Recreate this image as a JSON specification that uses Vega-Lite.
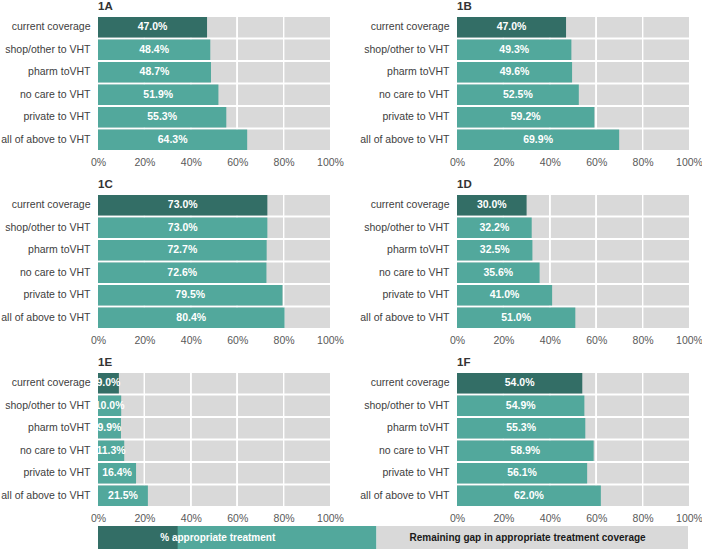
{
  "$schema": "https://vega.github.io/schema/vega-lite/v6.json",
  "background": "white",
  "padding": {"left": 0, "top": 1, "right": 0, "bottom": 0},
  "config": {
    "font": "Liberation Sans",
    "view": {"stroke": null},
    "axis": {"domain": false, "ticks": false, "grid": false, "title": null},
    "header": {"labelFontSize": 11.5, "labelFontWeight": "bold", "labelColor": "#333333", "labelAnchor": "start", "labelPadding": 4, "labelOrient": "top"},
    "concat": {"spacing": 2}
  },
  "datasets": {
    "coverage": [
      {"panel": "1A", "scenario": "current coverage", "value": 0.470},
      {"panel": "1A", "scenario": "shop/other to VHT", "value": 0.484},
      {"panel": "1A", "scenario": "pharm toVHT", "value": 0.487},
      {"panel": "1A", "scenario": "no care to VHT", "value": 0.519},
      {"panel": "1A", "scenario": "private to VHT", "value": 0.553},
      {"panel": "1A", "scenario": "all of above to VHT", "value": 0.643},
      {"panel": "1B", "scenario": "current coverage", "value": 0.470},
      {"panel": "1B", "scenario": "shop/other to VHT", "value": 0.493},
      {"panel": "1B", "scenario": "pharm toVHT", "value": 0.496},
      {"panel": "1B", "scenario": "no care to VHT", "value": 0.525},
      {"panel": "1B", "scenario": "private to VHT", "value": 0.592},
      {"panel": "1B", "scenario": "all of above to VHT", "value": 0.699},
      {"panel": "1C", "scenario": "current coverage", "value": 0.730},
      {"panel": "1C", "scenario": "shop/other to VHT", "value": 0.730},
      {"panel": "1C", "scenario": "pharm toVHT", "value": 0.727},
      {"panel": "1C", "scenario": "no care to VHT", "value": 0.726},
      {"panel": "1C", "scenario": "private to VHT", "value": 0.795},
      {"panel": "1C", "scenario": "all of above to VHT", "value": 0.804},
      {"panel": "1D", "scenario": "current coverage", "value": 0.300},
      {"panel": "1D", "scenario": "shop/other to VHT", "value": 0.322},
      {"panel": "1D", "scenario": "pharm toVHT", "value": 0.325},
      {"panel": "1D", "scenario": "no care to VHT", "value": 0.356},
      {"panel": "1D", "scenario": "private to VHT", "value": 0.410},
      {"panel": "1D", "scenario": "all of above to VHT", "value": 0.510},
      {"panel": "1E", "scenario": "current coverage", "value": 0.090},
      {"panel": "1E", "scenario": "shop/other to VHT", "value": 0.100},
      {"panel": "1E", "scenario": "pharm toVHT", "value": 0.099},
      {"panel": "1E", "scenario": "no care to VHT", "value": 0.113},
      {"panel": "1E", "scenario": "private to VHT", "value": 0.164},
      {"panel": "1E", "scenario": "all of above to VHT", "value": 0.215},
      {"panel": "1F", "scenario": "current coverage", "value": 0.540},
      {"panel": "1F", "scenario": "shop/other to VHT", "value": 0.549},
      {"panel": "1F", "scenario": "pharm toVHT", "value": 0.553},
      {"panel": "1F", "scenario": "no care to VHT", "value": 0.589},
      {"panel": "1F", "scenario": "private to VHT", "value": 0.561},
      {"panel": "1F", "scenario": "all of above to VHT", "value": 0.620}
    ],
    "legendBar": [
      {"segment": "% appropriate treatment", "share": 0.472},
      {"segment": "Remaining gap in appropriate treatment coverage", "share": 0.528}
    ],
    "legendCurrent": [
      {"segment": "current coverage", "share": 0.135}
    ]
  },
  "resolve": {"scale": {"color": "independent"}},
  "vconcat": [
    {
      "data": {"name": "coverage"},
      "facet": {"field": "panel", "type": "nominal", "header": {"title": null}},
      "columns": 2,
      "spacing": {"column": 15, "row": 11},
      "resolve": {"axis": {"x": "independent", "y": "independent"}},
      "spec": {
        "width": 232,
        "height": 133,
        "layer": [
          {
            "mark": {"type": "bar", "color": "#d9d9d9"},
            "encoding": {
              "y": {"field": "scenario", "type": "nominal", "sort": null, "scale": {"paddingInner": 0.09, "paddingOuter": 0}, "axis": {"labelPadding": 8, "labelFontSize": 10.5, "labelColor": "#404040", "labelLimit": 200}},
              "x": {"datum": 1, "type": "quantitative", "scale": {"domain": [0, 1]}, "axis": {"values": [0, 0.2, 0.4, 0.6, 0.8, 1], "format": ".0%", "labelFlush": false, "labelPadding": 7, "labelFontSize": 10.5, "labelColor": "#595959"}}
            }
          },
          {"mark": {"type": "rule", "color": "white", "strokeWidth": 1}, "encoding": {"x": {"datum": 0.2, "type": "quantitative"}}},
          {"mark": {"type": "rule", "color": "white", "strokeWidth": 1}, "encoding": {"x": {"datum": 0.4, "type": "quantitative"}}},
          {"mark": {"type": "rule", "color": "white", "strokeWidth": 1}, "encoding": {"x": {"datum": 0.6, "type": "quantitative"}}},
          {"mark": {"type": "rule", "color": "white", "strokeWidth": 1}, "encoding": {"x": {"datum": 0.8, "type": "quantitative"}}},
          {
            "mark": {"type": "bar"},
            "encoding": {
              "y": {"field": "scenario", "type": "nominal", "sort": null},
              "x": {"field": "value", "type": "quantitative"},
              "color": {"field": "scenario", "type": "nominal", "sort": null, "scale": {"domain": ["current coverage", "shop/other to VHT", "pharm toVHT", "no care to VHT", "private to VHT", "all of above to VHT"], "range": ["#336e66", "#52a89c", "#52a89c", "#52a89c", "#52a89c", "#52a89c"]}, "legend": null}
            }
          },
          {
            "mark": {"type": "text", "color": "white", "fontWeight": "bold", "fontSize": 10.5},
            "encoding": {
              "y": {"field": "scenario", "type": "nominal", "sort": null},
              "x": {"field": "value", "type": "quantitative", "stack": "zero", "bandPosition": 0.5},
              "text": {"field": "value", "type": "quantitative", "format": ".1%"}
            }
          }
        ]
      }
    },
    {
      "width": 590,
      "height": 23,
      "layer": [
        {
          "data": {"name": "legendBar"},
          "mark": {"type": "bar"},
          "encoding": {
            "y": {"datum": "legend", "type": "nominal", "axis": null, "scale": {"paddingInner": 0, "paddingOuter": 0}},
            "x": {"field": "share", "type": "quantitative", "stack": "zero", "scale": {"domain": [0, 1], "nice": false}, "axis": null},
            "color": {"field": "segment", "type": "nominal", "scale": {"domain": ["% appropriate treatment", "Remaining gap in appropriate treatment coverage"], "range": ["#52a89c", "#d9d9d9"]}, "legend": null},
            "order": {"field": "segment", "sort": "ascending"}
          }
        },
        {
          "data": {"name": "legendCurrent"},
          "mark": {"type": "bar", "color": "#336e66"},
          "encoding": {
            "y": {"datum": "legend", "type": "nominal"},
            "x": {"field": "share", "type": "quantitative"}
          }
        },
        {
          "data": {"name": "legendBar"},
          "mark": {"type": "text", "fontWeight": "bold", "fontSize": 10, "color": "white"},
          "encoding": {
            "y": {"datum": "legend", "type": "nominal"},
            "x": {"field": "share", "type": "quantitative", "stack": "zero", "bandPosition": 0.43},
            "order": {"field": "segment", "sort": "ascending"},
            "text": {"condition": {"test": "datum.segment === '% appropriate treatment'", "field": "segment", "type": "nominal"}, "value": ""}
          }
        },
        {
          "data": {"name": "legendBar"},
          "mark": {"type": "text", "fontWeight": "bold", "fontSize": 10, "color": "#1a1a1a"},
          "encoding": {
            "y": {"datum": "legend", "type": "nominal"},
            "x": {"field": "share", "type": "quantitative", "stack": "zero", "bandPosition": 0.485},
            "order": {"field": "segment", "sort": "ascending"},
            "text": {"condition": {"test": "datum.segment !== '% appropriate treatment'", "field": "segment", "type": "nominal"}, "value": ""}
          }
        }
      ]
    }
  ]
}
